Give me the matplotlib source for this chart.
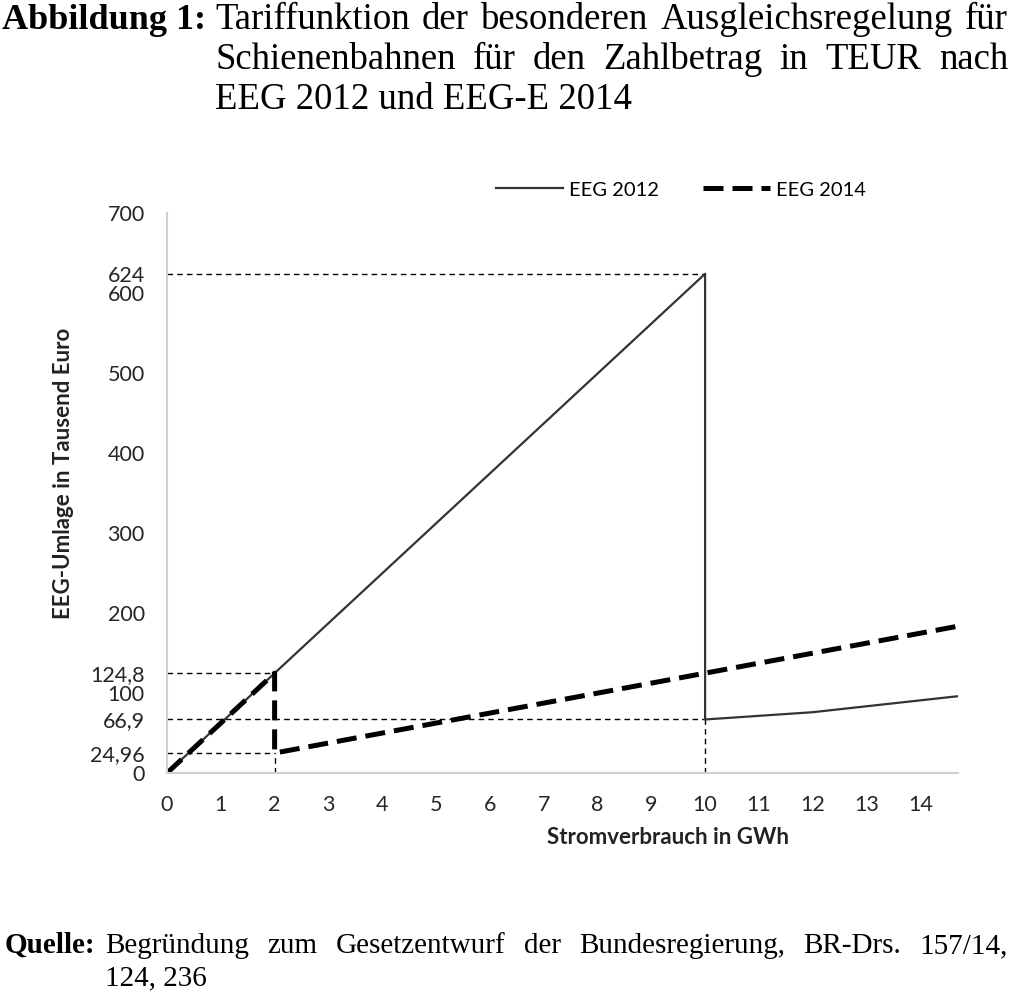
import matplotlib.pyplot as plt

plt.rcParams['font.family'] = ['Lato', 'DejaVu Sans']

# data
x_2012 = [0, 2, 10, 10, 12, 14.7]
y_2012 = [0, 124.8, 624, 66.9, 76, 96]
x_2014 = [0, 2, 2, 10, 14.7]
y_2014 = [0, 124.8, 24.96, 124.8, 183.5]

ytick_vals = [0, 24.96, 66.9, 100, 124.8, 200, 300, 400, 500, 600, 624, 700]
ytick_labels = ['0', '24,96', '66,9', '100', '124,8', '200', '300', '400',
                '500', '600', '624', '700']
xtick_vals = list(range(15))

# helper lines (x end, y level)
h_guides = [(10, 624), (2, 124.8), (10, 66.9), (2, 24.96)]
v_guides = [(2, 24.96), (10, 66.9)]

title_bold = 'Abbildung 1:'
title_lines = ['Tariffunktion der besonderen Ausgleichsregelung für',
               'Schienenbahnen für den Zahlbetrag in TEUR nach',
               'EEG 2012 und EEG-E 2014']
source_bold = 'Quelle:'
source_lines = ['Begründung zum Gesetzentwurf der Bundesregierung, BR-Drs. 157/14,',
                '124, 236']

W, H = 1011, 992
fig = plt.figure(figsize=(W / 100, H / 100), dpi=100)
ax = fig.add_axes([167 / W, 1 - 773 / H, (958 - 167) / W, (773 - 213) / H])

# guides
for xe, yv in h_guides:
    ax.plot([0, xe], [yv, yv], color='black', lw=1, dashes=(4, 3))
for xv, ye in v_guides:
    ax.plot([xv, xv], [0, ye], color='black', lw=1, dashes=(4, 3))

ax.plot(x_2012, y_2012, color='#333333', lw=1.6, label='EEG 2012')
ax.plot(x_2014, y_2014, color='black', lw=3.6, dashes=(4, 1.8), label='EEG 2014')

ax.set_xlim(0, 14.7)
ax.set_ylim(0, 700)
ax.set_xticks(xtick_vals)
ax.set_yticks(ytick_vals)
ax.set_yticklabels(ytick_labels)
ax.tick_params(length=0, labelsize=15.5, colors='#262626')
ax.tick_params(axis='y', pad=16)
ax.tick_params(axis='x', pad=16)
for s in ['top', 'right']:
    ax.spines[s].set_visible(False)
for s in ['left', 'bottom']:
    ax.spines[s].set_color('#d0d0d0')
    ax.spines[s].set_linewidth(1.5)

fig.text(668 / W, 1 - 837 / H, 'Stromverbrauch in GWh', ha='center', va='center',
         fontsize=16, fontweight='bold', color='#222222')
fig.text(64 / W, 1 - 473 / H, 'EEG-Umlage in Tausend Euro', ha='center', va='center',
         rotation=90, fontsize=16, fontweight='bold', color='#222222')

fig.legend(loc='center', bbox_to_anchor=(681 / W, 1 - 190 / H), ncol=2,
           frameon=False, fontsize=14.5, handlelength=3.3, handletextpad=0.3,
           columnspacing=2.2)

serif = ['Liberation Serif', 'DejaVu Serif']
renderer = fig.canvas.get_renderer()


def justify(words, x0, x1, y, **kw):
    texts = [fig.text(0, 1 - y / H, w, va='baseline', family=serif, **kw) for w in words]
    widths = [t.get_window_extent(renderer).width for t in texts]
    gap = (x1 - x0 - sum(widths)) / (len(words) - 1)
    x = x0
    for t, w in zip(texts, widths):
        t.set_x(x / W)
        x += w + gap


fig.text(2 / W, 1 - 29 / H, title_bold, va='baseline', family=serif,
         fontsize=26, fontweight='bold')
justify(title_lines[0].split(), 215, 1008, 29, fontsize=26.5)
justify(title_lines[1].split(), 215, 1008, 69, fontsize=26.5)
fig.text(215 / W, 1 - 109 / H, title_lines[2], va='baseline', family=serif, fontsize=26.5)

fig.text(5 / W, 1 - 953 / H, source_bold, va='baseline', family=serif,
         fontsize=21, fontweight='bold')
justify(source_lines[0].split(), 105, 1008, 953, fontsize=21)
fig.text(105 / W, 1 - 985 / H, source_lines[1], va='baseline', family=serif, fontsize=21)

fig.savefig('out.png', dpi=100)
